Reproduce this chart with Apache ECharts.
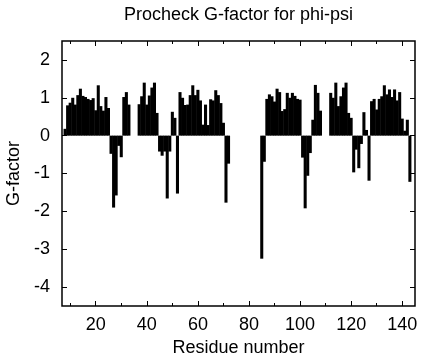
<!DOCTYPE html>
<html>
<head>
<meta charset="utf-8">
<script src="https://cdn.jsdelivr.net/npm/echarts@6/dist/echarts.min.js"></script>
<style>
  html, body { margin: 0; padding: 0; background: #fff; }
  #chart { width: 423px; height: 360px; }
</style>
</head>
<body>
<div id="chart"></div>
<script>
// ---- Data ----
const titleText = 'Procheck G-factor for phi-psi';
const xName = 'Residue number';
const yName = 'G-factor';

const residues = [
  8, 9, 10, 11, 12, 13, 14, 15, 16, 17, 18, 19, 20, 21, 22, 23, 24, 25, 26, 27, 28, 29, 30, 31, 32, 33,
  37, 38, 39, 40, 41, 42, 43, 44, 45, 46, 47, 48, 49, 50, 51, 52,
  53, 54, 55, 56, 57, 58, 59, 60, 61, 62, 63, 64, 65, 66, 67, 68, 69, 70, 71, 72,
  85, 86, 87, 88, 89, 90, 91, 92, 93, 94, 95, 96, 97, 98, 99, 100,
  101, 102, 103, 104, 105, 106, 107, 108,
  112, 113, 114, 115, 116, 117, 118, 119, 120, 121, 122, 123, 124, 125, 126, 127,
  128, 129, 130, 131, 132, 133, 134, 135, 136, 137, 138, 139, 140, 141, 142, 143
];
const gFactor = [
  0.18, 0.80, 0.87, 1.00, 0.82, 1.07, 1.24, 1.05, 1.02, 0.97, 0.94, 0.99, 0.67, 1.33, 0.78, 0.66, 1.02, 0.73, -0.48, -1.90, -1.58, -0.27, -0.57, 1.02, 1.15, 0.82,
  0.83, 1.04, 1.40, 0.82, 1.06, 1.27, 1.40, 0.60, -0.42, -0.53, -0.42, -1.66, -0.42, 0.63, 0.47, -1.53,
  1.15, 1.00, 0.81, 0.82, 1.07, 1.33, 1.07, 1.21, 0.93, 0.29, 0.82, 0.28, 0.96, 0.93, 1.20, 1.07, 0.86, 0.34, -1.77, -0.74,
  -3.25, -0.69, 0.97, 1.09, 1.04, 0.90, 1.24, 1.15, 0.65, 0.70, 1.13, 1.00, 1.13, 1.05, 0.97, 0.95,
  -0.58, -1.92, -1.06, -0.46, 0.42, 1.34, 1.13, 0.66,
  1.13, 1.00, 1.40, 0.78, 1.04, 1.27, 1.40, 0.60, 0.47, -0.97, -0.37, -0.86, -0.22, 0.62, 0.15, -1.19,
  0.91, 0.97, 0.69, 0.97, 1.04, 1.33, 1.09, 1.22, 1.02, 1.22, 0.93, 1.15, 0.45, 0.13, 0.42, -1.22
];

const xMajorTicks = [20, 40, 60, 80, 100, 120, 140];
const xMinorTicks = [10, 30, 50, 70, 90, 110, 130];
const yTicks = [-4, -3, -2, -1, 0, 1, 2];

// ---- Layout / style ----
const X_MIN = 6.8, X_MAX = 145;
const Y_MIN = -4.5, Y_MAX = 2.5;
const W = 423, H = 360;
const G = { left: 62, right: 8, top: 41, bottom: 54 };
const FONT = "'Liberation Sans', Arial, Helvetica, sans-serif";
const plotW = W - G.left - G.right;
const barW = plotW / (X_MAX - X_MIN) + 0.5;

const tickStyle = { color: '#000', width: 1 };

function xAxisDef(pos, ticks, len, labels) {
  return {
    type: 'value', position: pos, min: X_MIN, max: X_MAX,
    axisLine: { show: false, onZero: false },
    splitLine: { show: false },
    axisTick: { show: true, inside: true, length: len, customValues: ticks, lineStyle: tickStyle },
    axisLabel: labels ? {
      show: true, customValues: ticks, color: '#000', fontSize: 18, fontFamily: FONT, margin: 10
    } : { show: false }
  };
}

const xAxes = [
  Object.assign(xAxisDef('bottom', xMajorTicks, 5, true), {
    name: xName, nameLocation: 'middle', nameGap: 30,
    nameTextStyle: { color: '#000', fontSize: 18, fontFamily: FONT }
  }),
  xAxisDef('bottom', xMinorTicks, 3, false),
  xAxisDef('top', xMajorTicks, 5, false),
  xAxisDef('top', xMinorTicks, 3, false)
];

const yAxes = [
  {
    type: 'value', position: 'left', min: Y_MIN, max: Y_MAX,
    axisLine: { show: false, onZero: false }, splitLine: { show: false },
    axisTick: { show: true, inside: true, length: 5, customValues: yTicks, lineStyle: tickStyle },
    axisLabel: { show: true, customValues: yTicks, color: '#000', fontSize: 18, fontFamily: FONT, margin: 12 },
    name: yName, nameLocation: 'middle', nameGap: 38,
    nameTextStyle: { color: '#000', fontSize: 18, fontFamily: FONT }
  },
  {
    type: 'value', position: 'right', min: Y_MIN, max: Y_MAX,
    axisLine: { show: false, onZero: false }, splitLine: { show: false },
    axisTick: { show: true, inside: true, length: 5, customValues: yTicks, lineStyle: tickStyle },
    axisLabel: { show: false }
  }
];

const chart = echarts.init(document.getElementById('chart'), null, { renderer: 'canvas' });
chart.setOption({
  animation: false,
  backgroundColor: '#fff',
  title: {
    text: titleText, left: 124, top: 6, padding: 0,
    textStyle: { color: '#000', fontSize: 18, fontWeight: 'normal', fontFamily: FONT }
  },
  grid: {
    left: G.left, right: G.right, top: G.top, bottom: G.bottom,
    outerBoundsMode: 'none', containLabel: false,
    show: true, borderColor: '#000', borderWidth: 1.5, backgroundColor: 'transparent'
  },
  xAxis: xAxes,
  yAxis: yAxes,
  series: [{
    type: 'bar',
    xAxisIndex: 0, yAxisIndex: 0,
    barWidth: barW,
    itemStyle: { color: '#000' },
    data: residues.map((r, i) => [r, gFactor[i]])
  }]
});
</script>
</body>
</html>
